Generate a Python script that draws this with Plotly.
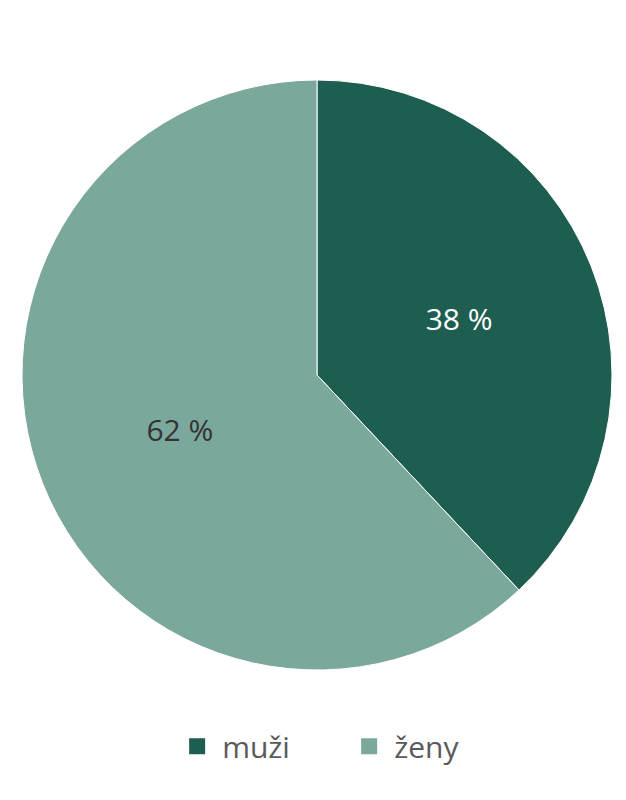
import plotly.graph_objects as go

labels = ["muži", "ženy"]
values = [38, 62]
texts = ["38 %", "62 %"]
colors = ["#1d5e50", "#7aa89c"]
text_colors = ["#ffffff", "#333333"]

fig = go.Figure()
fig.add_trace(go.Pie(
    labels=labels,
    values=values,
    text=texts,
    textinfo="text",
    textposition="inside",
    insidetextorientation="horizontal",
    sort=False,
    direction="clockwise",
    rotation=0,
    marker=dict(colors=colors, line=dict(color="#ffffff", width=1)),
    textfont=dict(color=text_colors, size=30, family="Open Sans"),
    showlegend=False,
))

# legend entries with bigger square swatches
for name, col in zip(labels, colors):
    fig.add_trace(go.Scatter(
        x=[None], y=[None], mode="markers", name=name,
        marker=dict(symbol="square", size=23, color=col),
    ))

fig.update_xaxes(visible=False)
fig.update_yaxes(visible=False)

fig.update_layout(
    width=626, height=800,
    margin=dict(l=14, r=22, t=72, b=138),
    paper_bgcolor="#ffffff",
    plot_bgcolor="rgba(0,0,0,0)",
    font=dict(family="Open Sans", color="#555555"),
    showlegend=True,
    legend=dict(
        orientation="h", x=0.546, xanchor="center", y=-0.085, yanchor="top",
        font=dict(size=30, color="#5a5a5a"),
        itemsizing="trace", itemwidth=40, traceorder="normal",
        entrywidth=117, entrywidthmode="pixels",
    ),
)

fig.write_html("out.html")
